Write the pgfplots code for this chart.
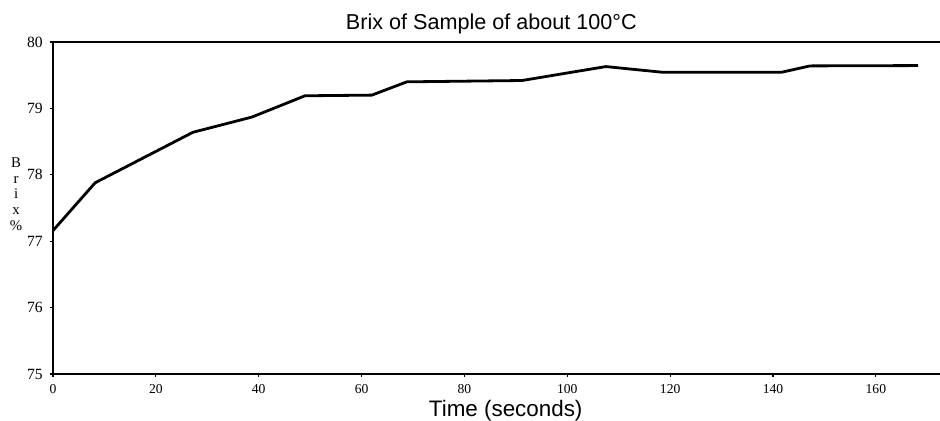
\documentclass[border=0pt]{standalone}
\usepackage{fontspec}
\setmainfont{Liberation Serif}
\newfontfamily\sansfont{Liberation Sans}
\usepackage{pgfplots}
\pgfplotsset{compat=1.18}

\begin{document}
\begin{tikzpicture}
% crop like the scan: the right edge of the frame is cut off
\useasboundingbox (-26.5pt,-23.5pt) rectangle (443.5pt,187pt);
\begin{axis}[
scale only axis,width=450pt,height=166pt,
xmin=0,xmax=175,ymin=75,ymax=80,
xtick={0,20,...,160},ytick={75,76,...,80},
xtick pos=bottom,ytick pos=left,
tick align=outside,major tick length=1.6pt,
axis line style={line width=0.8pt},
every tick/.style={black,line width=0.6pt},
xticklabel style={font=\fontsize{6.8}{7}\selectfont},
yticklabel style={font=\fontsize{7.8}{8}\selectfont},
/pgf/number format/assume math mode=true,
title={Brix of Sample of about 100\textdegree C},
title style={font=\sansfont\fontsize{10.8}{12}\selectfont,at={(axis description cs:0.487,1)},anchor=south,yshift=-5.3pt},
xlabel={Time (seconds)},
xlabel style={font=\sansfont\fontsize{11.2}{12}\selectfont,at={(axis description cs:0.503,0)},anchor=north,yshift=-9.8pt},
ylabel={B\\r\\i\\x\\\%},
ylabel style={rotate=-90,align=center,font=\fontsize{7.4}{7.8}\selectfont,at={(axis description cs:-0.041,0.542)},anchor=center},
]
\addplot[black,line width=1.4pt,line join=round] coordinates {
(0,77.16) (8.2,77.88) (27.2,78.64) (38.7,78.87) (49,79.19) (62,79.20)
(68.8,79.40) (91.2,79.42) (107.5,79.63) (118.4,79.545) (141.7,79.545)
(147.2,79.64) (168.2,79.645)
};
\end{axis}
\end{tikzpicture}
\end{document}
